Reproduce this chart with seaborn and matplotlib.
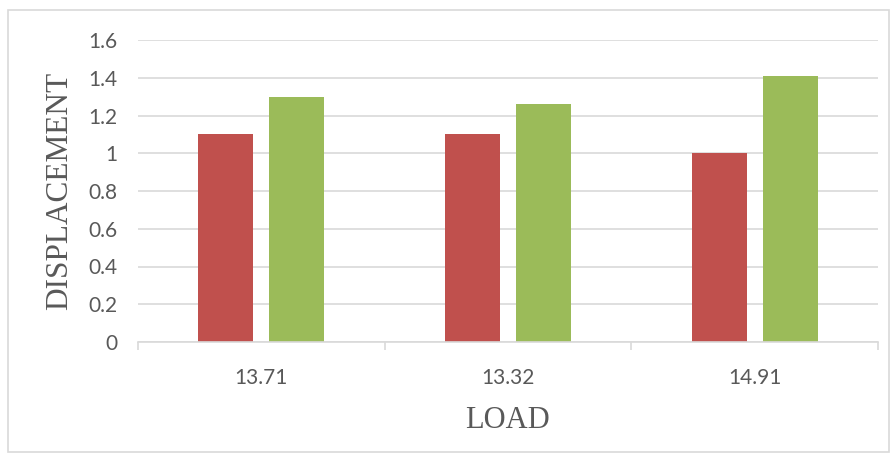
import matplotlib
matplotlib.use("Agg")
import matplotlib.pyplot as plt
from matplotlib.patches import Rectangle
import seaborn as sns
import pandas as pd

# Data
loads = ["13.71", "13.32", "14.91"]
series_a = [1.10, 1.10, 1.00]
series_b = [1.30, 1.26, 1.41]
y_ticks = [0, 0.2, 0.4, 0.6, 0.8, 1, 1.2, 1.4, 1.6]
y_tick_labels = ["0", "0.2", "0.4", "0.6", "0.8", "1", "1.2", "1.4", "1.6"]

df = pd.DataFrame({
    "LOAD": loads * 2,
    "DISPLACEMENT": series_a + series_b,
    "series": ["A"] * len(loads) + ["B"] * len(loads),
})

sns.set_style("white")
plt.rcParams["font.family"] = ["Lato", "DejaVu Sans"]

W, H = 894, 457
fig = plt.figure(figsize=(W / 100, H / 100), dpi=100)
ax = fig.add_axes([138 / W, 1 - 342 / H, (878 - 138) / W, (342 - 40) / H])

grid_c = "#d9d9d9"
sns.barplot(data=df, x="LOAD", y="DISPLACEMENT", hue="series", order=loads,
            palette=["#C0504D", "#9BBB59"], saturation=1, width=0.577, gap=0.227,
            linewidth=0, legend=False, ax=ax, zorder=3)

ax.set_xlim(-0.5, 2.5)
ax.set_ylim(0, 1.6)
ax.set_yticks(y_ticks)
ax.set_yticklabels(y_tick_labels)
ax.yaxis.grid(True, color=grid_c, linewidth=1.2, zorder=0)
ax.set_axisbelow(True)

for side in ["top", "right", "left"]:
    ax.spines[side].set_visible(False)
ax.spines["bottom"].set_color(grid_c)
ax.spines["bottom"].set_linewidth(1.2)
ax.spines["bottom"].set_zorder(4)

ax.tick_params(axis="y", left=False, length=0, pad=15, labelsize=15, labelcolor="#595959")
ax.tick_params(axis="x", which="major", bottom=False, length=0, pad=19, labelsize=15,
               labelcolor="#595959")
ax.set_xticks([-0.5, 0.5, 1.5, 2.5], minor=True)
ax.tick_params(axis="x", which="minor", bottom=True, length=6, width=1.2, color=grid_c)

serif = ["Liberation Serif", "DejaVu Serif"]
ax.set_xlabel("LOAD", family=serif, fontsize=22, color="#595959", labelpad=13)
ax.set_ylabel("DISPLACEMENT", family=serif, fontsize=22.5, color="#595959", labelpad=10)

fig.patches.append(Rectangle((8 / W, 1 - 452 / H), (889 - 8) / W, (452 - 10) / H,
                             transform=fig.transFigure, fill=False,
                             edgecolor=grid_c, linewidth=1.2))

fig.savefig("out.png", dpi=100, facecolor="white")
